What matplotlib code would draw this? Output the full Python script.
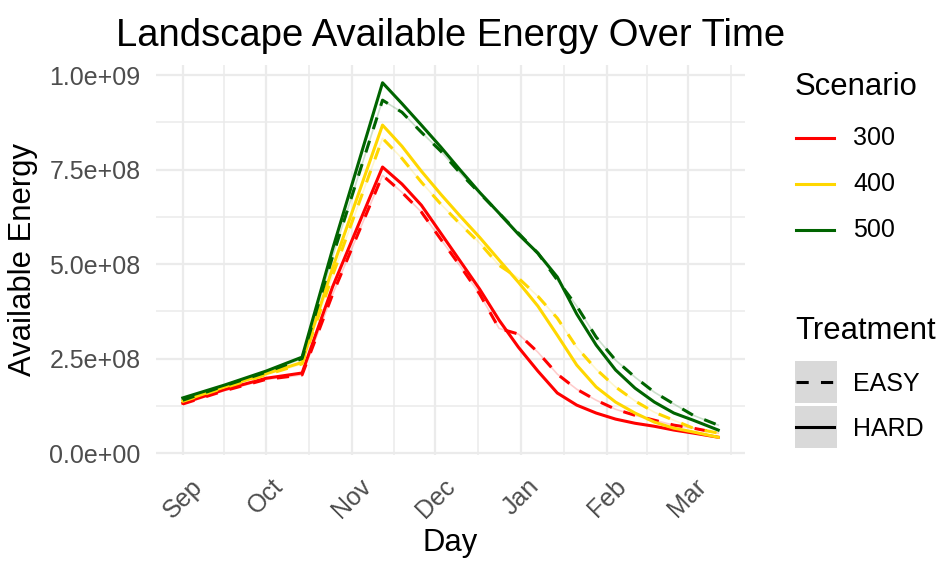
import matplotlib
matplotlib.use('Agg')
import matplotlib.pyplot as plt
import matplotlib.dates as mdates
from matplotlib.lines import Line2D
from matplotlib.patches import Rectangle
from matplotlib.ticker import FuncFormatter, MultipleLocator
import pandas as pd
import numpy as np

plt.rcParams['font.family'] = ['Liberation Sans', 'DejaVu Sans']

# sample dates
dates = ['2023-09-01', '2023-09-16', '2023-10-01', '2023-10-14', '2023-10-25',
         '2023-11-12', '2023-11-19', '2023-11-26', '2023-12-03', '2023-12-10',
         '2023-12-17', '2023-12-24', '2023-12-31', '2024-01-07', '2024-01-14',
         '2024-01-21', '2024-01-28', '2024-02-04', '2024-02-11', '2024-02-18',
         '2024-02-25', '2024-03-03', '2024-03-12']

# available energy (in 1e9 units)
hard_300 = [0.132, 0.168, 0.198, 0.212, 0.44, 0.757, 0.712, 0.656, 0.582, 0.508,
            0.434, 0.352, 0.28, 0.217, 0.159, 0.127, 0.106, 0.09, 0.079, 0.071,
            0.061, 0.053, 0.042]
easy_300 = [0.130, 0.165, 0.195, 0.207, 0.42, 0.735, 0.69, 0.638, 0.566, 0.495,
            0.421, 0.33, 0.315, 0.267, 0.209, 0.169, 0.14, 0.116, 0.1, 0.087,
            0.074, 0.066, 0.053]
hard_400 = [0.138, 0.175, 0.21, 0.24, 0.49, 0.868, 0.812, 0.746, 0.685, 0.627,
            0.571, 0.511, 0.452, 0.389, 0.312, 0.233, 0.175, 0.135, 0.106, 0.082,
            0.066, 0.056, 0.042]
easy_400 = [0.137, 0.173, 0.207, 0.236, 0.47, 0.833, 0.78, 0.717, 0.659, 0.606,
            0.556, 0.497, 0.463, 0.415, 0.357, 0.28, 0.222, 0.175, 0.138, 0.108,
            0.087, 0.066, 0.053]
hard_500 = [0.146, 0.18, 0.217, 0.254, 0.54, 0.98, 0.925, 0.868, 0.81, 0.749,
            0.69, 0.635, 0.579, 0.529, 0.466, 0.368, 0.286, 0.22, 0.172, 0.135,
            0.106, 0.087, 0.061]
easy_500 = [0.14, 0.178, 0.214, 0.25, 0.52, 0.934, 0.902, 0.849, 0.799, 0.741,
            0.688, 0.635, 0.582, 0.529, 0.458, 0.389, 0.307, 0.246, 0.201, 0.161,
            0.13, 0.10, 0.074]

scenarios = ['300', '400', '500']
colors = ['#FF0000', '#FFD700', '#006400']
treatments = ['EASY', 'HARD']

x = pd.to_datetime(dates)
series = {
    ('300', 'HARD'): hard_300, ('300', 'EASY'): easy_300,
    ('400', 'HARD'): hard_400, ('400', 'EASY'): easy_400,
    ('500', 'HARD'): hard_500, ('500', 'EASY'): easy_500,
}

W, H = 938, 561
fig = plt.figure(figsize=(W / 100, H / 100), dpi=100)
ax = fig.add_axes([156 / W, (H - 455) / H, (745 - 156) / W, (455 - 65) / H])

for sc, col in zip(scenarios, colors):
    e = np.array(series[(sc, 'EASY')]) * 1e9
    h = np.array(series[(sc, 'HARD')]) * 1e9
    ax.plot(x, e, color=col, lw=1.2, alpha=0.2, zorder=2)
    ax.plot(x, e, color=col, lw=2.2, dashes=(4, 4), zorder=3)
    ax.plot(x, h, color=col, lw=2.2, zorder=3)

start = x[0]
end = x[-1]
pad = (end - start) * 0.05

# grid
months = pd.date_range('2023-08-01', '2024-05-01', freq='MS')
mids = months[:-1] + (months[1:] - months[:-1]) / 2
ax.set_xticks(mdates.date2num(months[1:8]))
ax.set_xticks(mdates.date2num(mids), minor=True)
ax.xaxis.set_major_formatter(mdates.DateFormatter('%b'))
ax.yaxis.set_major_locator(MultipleLocator(2.5e8))
ax.yaxis.set_minor_locator(MultipleLocator(1.25e8))
ax.yaxis.set_major_formatter(FuncFormatter(lambda v, p: '{:.1e}'.format(v)))
ax.grid(which='major', color='#EBEBEB', lw=1.6)
ax.grid(which='minor', color='#EBEBEB', lw=1.1)
ax.set_axisbelow(True)
for s in ax.spines.values():
    s.set_visible(False)
ax.tick_params(which='both', length=0)
ax.tick_params(axis='y', labelsize=18, labelcolor='#4D4D4D', pad=11)
ax.tick_params(axis='x', labelsize=18, labelcolor='#4D4D4D', pad=14)
for lab in ax.get_xticklabels():
    lab.set_rotation(45)
    lab.set_ha('center')
    lab.set_va('top')

ax.set_xlim(start - pad, end + pad)
ax.set_ylim(-0.005e9, 1.027e9)
ax.set_xlabel('Day', fontsize=22.3, labelpad=4)
ax.set_ylabel('Available Energy', fontsize=22.3, labelpad=8)
ax.set_title('Landscape Available Energy Over Time', fontsize=27.5, pad=14)

# legends
def fx(px):
    return px / W

def fy(py):
    return (H - py) / H

fig.text(fx(795), fy(87), 'Scenario', fontsize=22.3, va='center', ha='left')
for i, (sc, col) in enumerate(zip(scenarios, colors)):
    yy = 138 + i * 46
    fig.add_artist(Line2D([fx(796), fx(834)], [fy(yy), fy(yy)], color=col, lw=2.2,
                          transform=fig.transFigure))
    fig.text(fx(853), fy(yy), sc, fontsize=18, va='center', ha='left')

fig.text(fx(795), fy(331), 'Treatment', fontsize=22.3, va='center', ha='left')
for i, tr in enumerate(treatments):
    top = 361 + i * 45
    fig.add_artist(Rectangle((fx(795), fy(top + 42)), 42 / W, 42 / H, color='#D9D9D9',
                             transform=fig.transFigure, lw=0))
    yy = top + 21
    ls = (0, (4, 4)) if tr == 'EASY' else '-'
    fig.add_artist(Line2D([fx(796), fx(834)], [fy(yy), fy(yy)], color='black', lw=2.2,
                          linestyle=ls, transform=fig.transFigure))
    fig.text(fx(853), fy(yy + 2), tr, fontsize=18, va='center', ha='left')

fig.savefig('out.png', dpi=100)
